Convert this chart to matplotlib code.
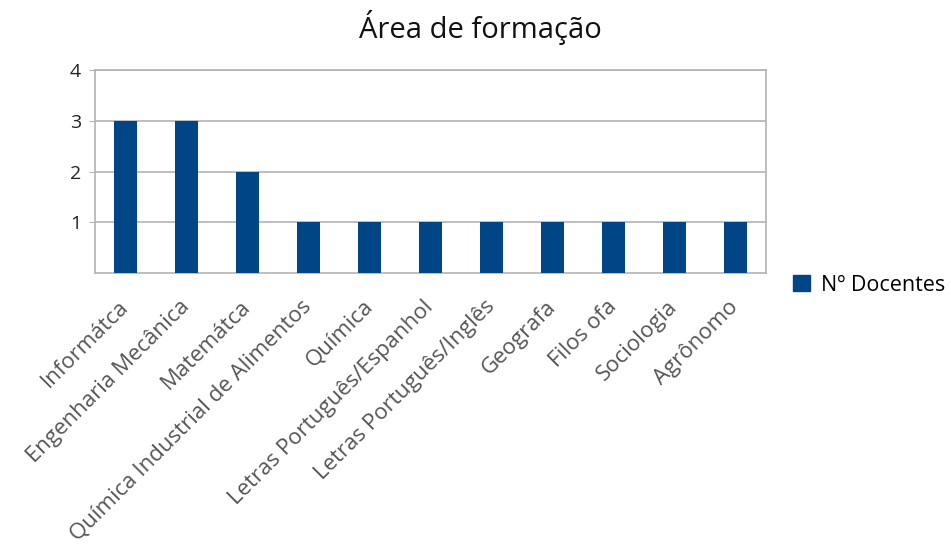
import matplotlib.pyplot as plt
from matplotlib.patches import Patch

categories = [
    "Informátca", "Engenharia Mecânica", "Matemátca",
    "Química Industrial de Alimentos", "Química",
    "Letras Português/Espanhol", "Letras Português/Inglês",
    "Geografa", "Filos ofa", "Sociologia", "Agrônomo",
]
docentes = [3, 3, 2, 1, 1, 1, 1, 1, 1, 1, 1]
yticks = [1, 2, 3, 4]
series_name = "Nº Docentes"
title = "Área de formação"

blue = "#004586"
grid_gray = "#b3b3b3"
text_gray = "#555555"

plt.rcParams["font.family"] = ["Open Sans", "DejaVu Sans"]

fig = plt.figure(figsize=(9.51, 5.59), dpi=100)
ax = fig.add_axes([0.0999, 0.5116, 0.7056, 0.3632])

x = list(range(len(categories)))
ax.bar(x, docentes, width=0.39, color=blue, zorder=3)

ax.set_xlim(-0.5, len(categories) - 0.5)
ax.set_ylim(0, 4)
ax.set_yticks(yticks)
ax.set_yticklabels([str(v) for v in yticks], fontsize=14, color="#222222")
ax.yaxis.grid(True, color=grid_gray, linewidth=1.2, zorder=0)
ax.tick_params(axis="y", length=4, color=grid_gray, pad=6)

ax.set_xticks(x)
ax.set_xticklabels(categories, rotation=45, ha="right", va="center",
                   rotation_mode="anchor", fontsize=16, color=text_gray)
ax.tick_params(axis="x", length=0, pad=22)

for s in ax.spines.values():
    s.set_color(grid_gray)
    s.set_linewidth(1.2)

fig.text(0.505, 0.95, title, ha="center", va="center", fontsize=21, color="#111111")

fig.legend(handles=[Patch(color=blue, label=series_name)], loc="center left",
           bbox_to_anchor=(0.834, 0.49), frameon=False, fontsize=15.5,
           handlelength=0.8, handleheight=0.8, handletextpad=0.5,
           borderaxespad=0, borderpad=0)

fig.savefig("out.png", dpi=100)
